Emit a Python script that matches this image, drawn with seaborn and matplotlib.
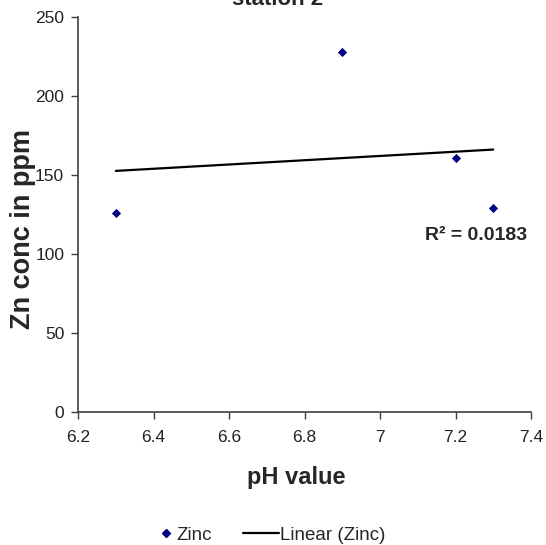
import numpy as np
import pandas as pd
import matplotlib
matplotlib.use("Agg")
import matplotlib.pyplot as plt
import seaborn as sns

# Data
ph_values = [6.3, 6.9, 7.2, 7.3]
zinc_ppm = [126, 228, 161, 129]
x_ticks = [6.2, 6.4, 6.6, 6.8, 7.0, 7.2, 7.4]
x_tick_labels = ["6.2", "6.4", "6.6", "6.8", "7", "7.2", "7.4"]
y_ticks = [0, 50, 100, 150, 200, 250]
r2_label = "R² = 0.0183"

df = pd.DataFrame({"pH": ph_values, "Zinc": zinc_ppm})

sns.set_style("white")
plt.rcParams["font.family"] = ["Liberation Sans", "DejaVu Sans"]

W, H = 546, 545
fig = plt.figure(figsize=(W / 100, H / 100), dpi=100)
ax = fig.add_axes([0.143, 0.244, 0.8295, 0.725])

# scatter points
sns.scatterplot(data=df, x="pH", y="Zinc", marker="D", s=22, color="#000080",
                edgecolor="#000080", linewidth=0, ax=ax, zorder=3)

# linear trendline
sns.regplot(data=df, x="pH", y="Zinc", scatter=False, ci=None, truncate=True,
            line_kws={"color": "black", "linewidth": 1.6}, ax=ax)

ax.set_xlim(6.2, 7.4)
ax.set_ylim(0, 250)
ax.set_xticks(x_ticks)
ax.set_xticklabels(x_tick_labels)
ax.set_yticks(y_ticks)
ax.tick_params(axis="both", direction="out", length=5, width=1, color="#404040",
               labelsize=12.5, labelcolor="#222222", bottom=True, left=True)
ax.tick_params(axis="x", pad=8)
ax.tick_params(axis="y", pad=5)

for side in ["top", "right"]:
    ax.spines[side].set_visible(False)
for side in ["left", "bottom"]:
    ax.spines[side].set_color("#404040")
    ax.spines[side].set_linewidth(1.2)

ax.set_xlabel("pH value", fontsize=17, fontweight="bold")
ax.xaxis.set_label_coords(0.482, -0.137)
ax.set_ylabel("Zn conc in ppm", fontsize=19.5, fontweight="bold")
ax.yaxis.set_label_coords(-0.094, 0.463)

ax.text(7.254, 112, r2_label, fontsize=14, fontweight="bold", ha="center", va="center")

# title, partly cut off at the top edge
fig.text(278 / W, 1 - 5 / H, "station 2", fontsize=16, fontweight="bold",
         ha="center", va="baseline")

# legend at the bottom: marker entry and trendline entry
zinc_handle = plt.Line2D([], [], marker="D", markersize=4.5, linestyle="none",
                         color="#000080")
line_handle = plt.Line2D([], [], color="black", linewidth=1.6)
leg1 = fig.legend([zinc_handle], ["Zinc"], loc="center left",
                  bbox_to_anchor=(158 / W, 1 - 535 / H), frameon=False,
                  prop={"size": 13.5}, handlelength=0.8,
                  handletextpad=0.2, borderpad=0, borderaxespad=0)
leg2 = fig.legend([line_handle], ["Linear (Zinc)"], loc="center left",
                  bbox_to_anchor=(243 / W, 1 - 535 / H), frameon=False,
                  prop={"size": 13.5}, handlelength=1.9,
                  handletextpad=0.1, borderpad=0, borderaxespad=0)

fig.savefig("out.png", dpi=100)
